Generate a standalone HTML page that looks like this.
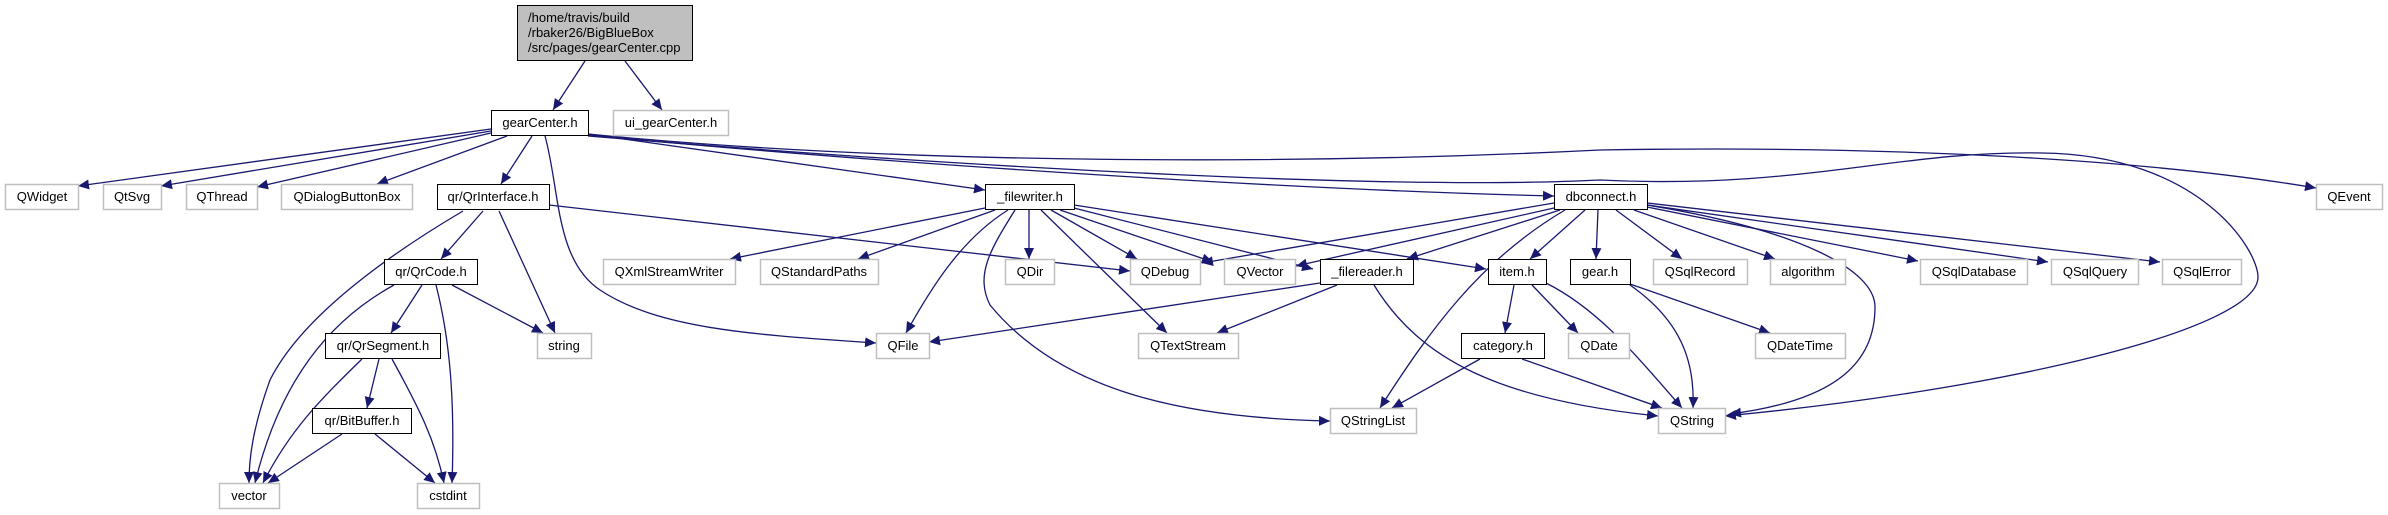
<!DOCTYPE html>
<html><head><meta charset="utf-8"><style>
html,body{margin:0;padding:0;background:#fff}
svg{display:block}
text{font-family:"Liberation Sans",Arial,sans-serif;font-size:13px;fill:#000}
</style></head><body>
<svg width="2388" height="515" viewBox="0 0 2388 515" xmlns="http://www.w3.org/2000/svg">
<defs>
<marker id="a" markerUnits="userSpaceOnUse" markerWidth="12" markerHeight="10" refX="11" refY="5" orient="auto">
<path d="M0,0 L11,5 L0,10 z" fill="#191970"/>
</marker>
</defs>
<g fill="none" stroke="#191970" stroke-width="1.3" marker-end="url(#a)">
<path d="M585,61 L553,110"/>
<path d="M625,61 L662,110"/>
<path d="M491,129 L78,186"/>
<path d="M491,131 L161,186"/>
<path d="M491,133 L257,187"/>
<path d="M507,136 L377,184"/>
<path d="M532,136 L501,184"/>
<path d="M545,136 C560,190 555,260 600,290 C660,330 760,335 876,343"/>
<path d="M588,134 L985,190"/>
<path d="M588,135 C900,165 1300,190 1554,196"/>
<path d="M588,134 C900,165 1300,165 1600,150 C1900,145 2150,160 2316,188"/>
<path d="M588,136 C1000,170 1400,190 1600,180 C1800,190 1900,150 2042,153 C2200,155 2258,250 2258,277 C2258,330 2000,390 1725,416"/>
<path d="M463,211 C380,260 300,320 270,380 C252,430 249,460 249,483"/>
<path d="M483,211 L441,259"/>
<path d="M499,211 L555,333"/>
<path d="M549,205 L1130,271"/>
<path d="M394,285 C330,320 280,380 255,483"/>
<path d="M422,285 L391,333"/>
<path d="M436,285 C450,340 455,400 452,483"/>
<path d="M452,285 L543,333"/>
<path d="M362,359 C320,400 290,430 263,483"/>
<path d="M379,359 L367,408"/>
<path d="M392,359 C420,410 435,440 444,483"/>
<path d="M342,434 L268,483"/>
<path d="M375,434 L435,483"/>
<path d="M985,208 L730,259"/>
<path d="M995,210 L858,259"/>
<path d="M1008,210 C960,240 930,290 906,333"/>
<path d="M1015,210 C990,250 975,275 990,305 C1060,390 1180,418 1330,421"/>
<path d="M1029,210 L1029,259"/>
<path d="M1041,210 L1167,333"/>
<path d="M1051,210 L1137,259"/>
<path d="M1060,210 L1213,262"/>
<path d="M1070,207 L1313,269"/>
<path d="M1074,205 L1486,269"/>
<path d="M1554,203 L1202,263"/>
<path d="M1554,208 L1296,266"/>
<path d="M1560,210 L1407,259"/>
<path d="M1565,210 C1480,260 1430,330 1380,408"/>
<path d="M1585,210 L1530,259"/>
<path d="M1598,210 L1596,259"/>
<path d="M1616,210 L1682,259"/>
<path d="M1634,210 L1775,259"/>
<path d="M1647,207 L1918,261"/>
<path d="M1647,205 L2048,262"/>
<path d="M1647,203 L2160,262"/>
<path d="M1647,205 C1800,230 1875,270 1875,307 C1875,360 1840,400 1730,414"/>
<path d="M1320,283 L929,342"/>
<path d="M1337,285 L1217,333"/>
<path d="M1374,285 C1420,360 1500,400 1658,416"/>
<path d="M1514,285 L1505,333"/>
<path d="M1532,285 L1578,333"/>
<path d="M1546,283 C1600,310 1640,360 1682,408"/>
<path d="M1630,284 L1770,333"/>
<path d="M1630,285 C1680,320 1695,360 1693,408"/>
<path d="M1480,359 L1392,408"/>
<path d="M1522,359 L1662,408"/>
</g>
<!-- root -->
<rect x="517.5" y="5.5" width="175" height="55" fill="#bfbfbf" stroke="#000" stroke-width="1"/>
<text x="528" y="22">/home/travis/build</text>
<text x="528" y="37">/rbaker26/BigBlueBox</text>
<text x="528" y="52">/src/pages/gearCenter.cpp</text>
<!-- black nodes -->
<g fill="#fff" stroke="#000" stroke-width="1">
<rect x="491.5" y="110.5" width="97" height="25"/>
<rect x="437.5" y="184.5" width="112" height="25"/>
<rect x="384.5" y="259.5" width="93" height="25"/>
<rect x="325.5" y="333.5" width="115" height="25"/>
<rect x="312.5" y="408.5" width="99" height="25"/>
<rect x="985.5" y="184.5" width="89" height="25"/>
<rect x="1554.5" y="184.5" width="93" height="25"/>
<rect x="1320.5" y="259.5" width="93" height="25"/>
<rect x="1488.5" y="259.5" width="58" height="25"/>
<rect x="1570.5" y="259.5" width="60" height="25"/>
<rect x="1461.5" y="333.5" width="83" height="25"/>
</g>
<g fill="#fff" stroke="#bfbfbf" stroke-width="1.5">
<rect x="613.5" y="110.5" width="115" height="25"/>
<rect x="5.5" y="184.5" width="73" height="25"/>
<rect x="103.5" y="184.5" width="58" height="25"/>
<rect x="186.5" y="184.5" width="71" height="25"/>
<rect x="281.5" y="184.5" width="131" height="25"/>
<rect x="2316.5" y="184.5" width="66" height="25"/>
<rect x="603.5" y="259.5" width="132" height="25"/>
<rect x="760.5" y="259.5" width="118" height="25"/>
<rect x="1005.5" y="259.5" width="49" height="25"/>
<rect x="1130.5" y="259.5" width="70" height="25"/>
<rect x="1224.5" y="259.5" width="71" height="25"/>
<rect x="1653.5" y="259.5" width="94" height="25"/>
<rect x="1770.5" y="259.5" width="75" height="25"/>
<rect x="1920.5" y="259.5" width="107" height="25"/>
<rect x="2051.5" y="259.5" width="87" height="25"/>
<rect x="2162.5" y="259.5" width="79" height="25"/>
<rect x="537.5" y="333.5" width="54" height="25"/>
<rect x="876.5" y="333.5" width="53" height="25"/>
<rect x="1138.5" y="333.5" width="100" height="25"/>
<rect x="1568.5" y="333.5" width="61" height="25"/>
<rect x="1755.5" y="333.5" width="90" height="25"/>
<rect x="1330.5" y="408.5" width="86" height="25"/>
<rect x="1658.5" y="408.5" width="67" height="25"/>
<rect x="219.5" y="483.5" width="60" height="25"/>
<rect x="417.5" y="483.5" width="62" height="25"/>
</g>
<g text-anchor="middle">
<text x="540" y="127">gearCenter.h</text>
<text x="671" y="127">ui_gearCenter.h</text>
<text x="42" y="201">QWidget</text>
<text x="132" y="201">QtSvg</text>
<text x="222" y="201">QThread</text>
<text x="347" y="201">QDialogButtonBox</text>
<text x="493" y="201">qr/QrInterface.h</text>
<text x="1030" y="201">_filewriter.h</text>
<text x="1601" y="201">dbconnect.h</text>
<text x="2349" y="201">QEvent</text>
<text x="431" y="276">qr/QrCode.h</text>
<text x="669" y="276">QXmlStreamWriter</text>
<text x="819" y="276">QStandardPaths</text>
<text x="1030" y="276">QDir</text>
<text x="1165" y="276">QDebug</text>
<text x="1260" y="276">QVector</text>
<text x="1367" y="276">_filereader.h</text>
<text x="1517" y="276">item.h</text>
<text x="1600" y="276">gear.h</text>
<text x="1700" y="276">QSqlRecord</text>
<text x="1808" y="276">algorithm</text>
<text x="1974" y="276">QSqlDatabase</text>
<text x="2095" y="276">QSqlQuery</text>
<text x="2202" y="276">QSqlError</text>
<text x="383" y="350">qr/QrSegment.h</text>
<text x="564" y="350">string</text>
<text x="903" y="350">QFile</text>
<text x="1188" y="350">QTextStream</text>
<text x="1503" y="350">category.h</text>
<text x="1599" y="350">QDate</text>
<text x="1800" y="350">QDateTime</text>
<text x="362" y="425">qr/BitBuffer.h</text>
<text x="1373" y="425">QStringList</text>
<text x="1692" y="425">QString</text>
<text x="249" y="500">vector</text>
<text x="448" y="500">cstdint</text>
</g>
</svg>
</body></html>
